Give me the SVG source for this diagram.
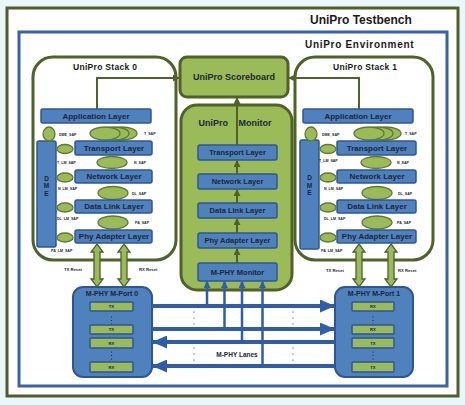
<svg xmlns="http://www.w3.org/2000/svg" width="465" height="405" viewBox="0 0 465 405">
<defs>
<style>
text{font-family:"Liberation Sans",Arial,sans-serif;font-weight:bold;fill:#1c2638}
.title{font-size:12px;fill:#1a1a1a}
.env{font-size:10px;letter-spacing:0.7px;fill:#1a1a1a}
.stk{font-size:8.5px;letter-spacing:0.3px;fill:#1a1a1a}
.lay{font-size:8px;text-anchor:middle}
.dme{font-size:6.5px;text-anchor:middle}
.mlay{font-size:7.5px;text-anchor:middle}
.sap{font-size:3.6px}
.rst{font-size:4.2px}
.bar{font-size:4.2px;text-anchor:middle}
.stack{fill:#fff;stroke:#4f6228;stroke-width:3}
.green{fill:#9bbb59;stroke:#4f6228;stroke-width:3}
.layer{fill:#4f81bd;stroke:#2f5597;stroke-width:1.5}
.ell{fill:#9bbb59;stroke:#5f7a2e;stroke-width:1.3}
.port{fill:#4f81bd;stroke:#2f5597;stroke-width:2}
.pbar{fill:#9bbb59;stroke:#2f5597;stroke-width:1.5}
.blk{fill:#9bbb59;stroke:#4f6228;stroke-width:1.3}
.oln{fill:none;stroke:#4f6228;stroke-width:2}
.lane{fill:none;stroke:#2f5da8;stroke-width:4}
.tap{fill:none;stroke:#2f5da8;stroke-width:2.5}
.dot{fill:#222}
</style>
<marker id="ao" markerUnits="userSpaceOnUse" markerWidth="7" markerHeight="7" refX="6" refY="3.5" orient="auto"><path d="M0,0 L7,3.5 L0,7 z" fill="#4f6228"/></marker>
<marker id="al" markerUnits="userSpaceOnUse" markerWidth="15" markerHeight="13" refX="14" refY="6.5" orient="auto"><path d="M0,0 L15,6.5 L0,13 z" fill="#2f5da8"/></marker>
<marker id="at" markerUnits="userSpaceOnUse" markerWidth="7" markerHeight="7" refX="6" refY="3.5" orient="auto"><path d="M0,0 L7,3.5 L0,7 z" fill="#2f5da8"/></marker>
</defs>
<rect x="0" y="0" width="465" height="405" fill="#eaf6fb"/>
<g id="testbench">
<rect x="7" y="8" width="451" height="388" fill="#fff" stroke="#4f5f2b" stroke-width="3"/>
<text class="title" x="310" y="24">UniPro Testbench</text>
</g>
<g id="environment">
<rect x="19" y="32" width="428" height="354" fill="#fff" stroke="#3a62a8" stroke-width="3"/>
<text class="env" x="305" y="48">UniPro Environment</text>
</g>

<g id="stack0">
<rect class="stack" x="33" y="57" width="143" height="203" rx="20"/>
<text class="stk" x="73" y="70">UniPro Stack 0</text>
</g>
<g id="stack1">
<rect class="stack" x="295" y="57" width="138" height="203" rx="20"/>
<text class="stk" x="333" y="70">UniPro Stack 1</text>
</g>

<g id="stack0-layers">
<rect class="layer" x="41" y="109" width="110" height="14" rx="2"/>
<text class="lay" x="96" y="118.8">Application Layer</text>
<rect class="layer" x="37" y="141" width="19" height="106" rx="2"/>
<text class="dme" x="46.5" y="180.5">D</text>
<text class="dme" x="46.5" y="188">M</text>
<text class="dme" x="46.5" y="195.5">E</text>
<ellipse class="ell" cx="49" cy="134" rx="6" ry="7"/>
<ellipse class="ell" cx="122" cy="133.5" rx="15" ry="6.5"/>
<ellipse class="ell" cx="114" cy="133.5" rx="15" ry="6.5"/>
<ellipse class="ell" cx="105" cy="133.5" rx="15" ry="6.5"/>
<rect class="layer" x="75" y="141" width="77" height="14" rx="2"/>
<text class="lay" x="114" y="150.8">Transport Layer</text>
<ellipse class="ell" cx="65" cy="149" rx="8" ry="4.5"/>
<ellipse class="ell" cx="112" cy="162.5" rx="15" ry="6"/>
<rect class="layer" x="75" y="170" width="77" height="13" rx="2"/>
<text class="lay" x="114" y="179.3">Network Layer</text>
<ellipse class="ell" cx="65" cy="177.5" rx="8" ry="4.5"/>
<ellipse class="ell" cx="113" cy="193" rx="15" ry="6.5"/>
<rect class="layer" x="75" y="200" width="77" height="13" rx="2"/>
<text class="lay" x="114" y="209.3">Data Link Layer</text>
<ellipse class="ell" cx="65" cy="207.5" rx="8" ry="4.5"/>
<ellipse class="ell" cx="113" cy="222.5" rx="15" ry="6.5"/>
<rect class="layer" x="75" y="230" width="77" height="13" rx="2"/>
<text class="lay" x="114" y="239.3">Phy Adapter Layer</text>
<ellipse class="ell" cx="65" cy="237.5" rx="8" ry="4.5"/>
<text class="sap" x="59" y="136">DME_SAP</text>
<text class="sap" x="144" y="135">T_SAP</text>
<text class="sap" x="57" y="164">T_LM_SAP</text>
<text class="sap" x="134" y="164">N_SAP</text>
<text class="sap" x="58" y="190">N_LM_SAP</text>
<text class="sap" x="132" y="195">DL_SAP</text>
<text class="sap" x="57" y="220">DL_LM_SAP</text>
<text class="sap" x="135" y="224">PA_SAP</text>
<text class="sap" x="51" y="252">PA_LM_SAP</text>
</g>

<g id="stack1-layers" transform="translate(262,0)">
<rect class="layer" x="41" y="109" width="110" height="14" rx="2"/>
<text class="lay" x="96" y="118.8">Application Layer</text>
<rect class="layer" x="38" y="140" width="19" height="109" rx="2"/>
<text class="dme" x="47.5" y="180">D</text>
<text class="dme" x="47.5" y="187.5">M</text>
<text class="dme" x="47.5" y="195">E</text>
<ellipse class="ell" cx="49" cy="134" rx="6" ry="7"/>
<ellipse class="ell" cx="124" cy="133.5" rx="15" ry="6.5"/>
<ellipse class="ell" cx="116" cy="133.5" rx="15" ry="6.5"/>
<ellipse class="ell" cx="107" cy="133.5" rx="15" ry="6.5"/>
<rect class="layer" x="75" y="141" width="79" height="14" rx="2"/>
<text class="lay" x="115" y="150.8">Transport Layer</text>
<ellipse class="ell" cx="66" cy="149" rx="8" ry="4.5"/>
<ellipse class="ell" cx="114" cy="162.5" rx="15" ry="6"/>
<rect class="layer" x="75" y="170" width="79" height="13" rx="2"/>
<text class="lay" x="115" y="179.3">Network Layer</text>
<ellipse class="ell" cx="66" cy="177.5" rx="8" ry="4.5"/>
<ellipse class="ell" cx="115" cy="193" rx="15" ry="6.5"/>
<rect class="layer" x="75" y="200" width="79" height="13" rx="2"/>
<text class="lay" x="115" y="209.3">Data Link Layer</text>
<ellipse class="ell" cx="66" cy="207.5" rx="8" ry="4.5"/>
<ellipse class="ell" cx="115" cy="222.5" rx="15" ry="6.5"/>
<rect class="layer" x="75" y="230" width="79" height="13" rx="2"/>
<text class="lay" x="115" y="239.3">Phy Adapter Layer</text>
<ellipse class="ell" cx="66" cy="237.5" rx="8" ry="4.5"/>
<text class="sap" x="60" y="136">DME_SAP</text>
<text class="sap" x="143" y="135">T_SAP</text>
<text class="sap" x="57" y="162">T_LM_SAP</text>
<text class="sap" x="135" y="164">N_SAP</text>
<text class="sap" x="62" y="190">N_LM_SAP</text>
<text class="sap" x="136" y="195">DL_SAP</text>
<text class="sap" x="62" y="220">DL_LM_SAP</text>
<text class="sap" x="135" y="224">PA_SAP</text>
<text class="sap" x="59" y="252">PA_LM_SAP</text>
</g>

<g id="scoreboard">
<rect class="green" x="180" y="57" width="108" height="40" rx="7"/>
<text x="234" y="80" font-size="9" text-anchor="middle" fill="#1a1a1a">UniPro Scoreboard</text>
</g>

<g id="monitor">
<rect class="green" x="181" y="105" width="111" height="185" rx="16"/>
<text x="235" y="126" font-size="9" text-anchor="middle" word-spacing="8" fill="#1a1a1a">UniPro Monitor</text>
<rect class="layer" x="198" y="145" width="79" height="15" rx="2"/>
<text class="mlay" x="237.5" y="155">Transport Layer</text>
<rect class="layer" x="198" y="174" width="79" height="15" rx="2"/>
<text class="mlay" x="237.5" y="184">Network Layer</text>
<rect class="layer" x="198" y="203" width="79" height="15" rx="2"/>
<text class="mlay" x="237.5" y="213">Data Link Layer</text>
<rect class="layer" x="198" y="233" width="79" height="15" rx="2"/>
<text class="mlay" x="237.5" y="243">Phy Adapter Layer</text>
<rect class="layer" x="198" y="263" width="79" height="18" rx="2"/>
<text class="mlay" x="237.5" y="274.5">M-PHY Monitor</text>
</g>

<g id="mport0">
<rect class="port" x="73" y="287" width="79" height="90" rx="10"/>
<text x="112" y="296" font-size="7" text-anchor="middle">M-PHY M-Port 0</text>
<rect class="pbar" x="90" y="302" width="43" height="9" rx="1"/>
<text class="bar" x="111.5" y="308">TX</text>
<circle class="dot" cx="111.5" cy="317" r="0.6"/><circle class="dot" cx="111.5" cy="320.5" r="0.6"/><circle class="dot" cx="111.5" cy="324" r="0.6"/>
<rect class="pbar" x="90" y="325" width="43" height="9" rx="1"/>
<text class="bar" x="111.5" y="331">TX</text>
<rect class="pbar" x="90" y="338" width="43" height="10" rx="1"/>
<text class="bar" x="111.5" y="344.5">RX</text>
<circle class="dot" cx="111.5" cy="352" r="0.6"/><circle class="dot" cx="111.5" cy="355.5" r="0.6"/><circle class="dot" cx="111.5" cy="359" r="0.6"/>
<rect class="pbar" x="90" y="362" width="43" height="10" rx="1"/>
<text class="bar" x="111.5" y="368.5">RX</text>
</g>

<g id="mport1">
<rect class="port" x="335" y="287" width="78" height="90" rx="10"/>
<text x="374" y="296" font-size="7" text-anchor="middle">M-PHY M-Port 1</text>
<rect class="pbar" x="352" y="302" width="42" height="9" rx="1"/>
<text class="bar" x="373" y="308">RX</text>
<circle class="dot" cx="373" cy="317" r="0.6"/><circle class="dot" cx="373" cy="320.5" r="0.6"/><circle class="dot" cx="373" cy="324" r="0.6"/>
<rect class="pbar" x="352" y="325" width="42" height="9" rx="1"/>
<text class="bar" x="373" y="331">RX</text>
<rect class="pbar" x="352" y="338" width="42" height="10" rx="1"/>
<text class="bar" x="373" y="344.5">TX</text>
<circle class="dot" cx="373" cy="352" r="0.6"/><circle class="dot" cx="373" cy="355.5" r="0.6"/><circle class="dot" cx="373" cy="359" r="0.6"/>
<rect class="pbar" x="352" y="362" width="42" height="10" rx="1"/>
<text class="bar" x="373" y="368.5">TX</text>
</g>

<g id="connectors">
<path class="oln" d="M97,109 V78 H179" marker-end="url(#ao)"/>
<path class="oln" d="M359,109 V78 H289" marker-end="url(#ao)"/>
<path class="oln" d="M237,145 V98" marker-end="url(#ao)"/>
<path class="oln" d="M237,174 V161" marker-end="url(#ao)"/>
<path class="oln" d="M237,203 V190" marker-end="url(#ao)"/>
<path class="oln" d="M237,233 V219" marker-end="url(#ao)"/>
<path class="oln" d="M237,263 V249" marker-end="url(#ao)"/>
<path class="blk" d="M97,244 L103,252 L100,252 L100,279 L103,279 L97,287 L91,279 L94,279 L94,252 L91,252 Z"/>
<path class="blk" d="M124,244 L130,252 L127,252 L127,279 L130,279 L124,287 L118,279 L121,279 L121,252 L118,252 Z"/>
<path class="blk" d="M359,244 L365,252 L362,252 L362,279 L365,279 L359,287 L353,279 L356,279 L356,252 L353,252 Z"/>
<path class="blk" d="M391,244 L397,252 L394,252 L394,279 L397,279 L391,287 L385,279 L388,279 L388,252 L385,252 Z"/>
<text class="rst" x="64" y="271">TX Reset</text>
<text class="rst" x="139" y="271">RX Reset</text>
<text class="rst" x="326" y="272">TX Reset</text>
<text class="rst" x="398" y="272">RX Reset</text>
<path class="lane" d="M152,306 H334" marker-end="url(#al)"/>
<path class="lane" d="M152,329 H334" marker-end="url(#al)"/>
<path class="lane" d="M335,342 H153" marker-end="url(#al)"/>
<path class="lane" d="M335,366 H153" marker-end="url(#al)"/>
<path class="tap" d="M207,305 V282" marker-end="url(#at)"/>
<path class="tap" d="M224.5,328 V282" marker-end="url(#at)"/>
<path class="tap" d="M242,341 V282" marker-end="url(#at)"/>
<path class="tap" d="M262.5,365 V282" marker-end="url(#at)"/>
<circle class="dot" cx="194" cy="312" r="0.6"/><circle class="dot" cx="194" cy="318" r="0.6"/><circle class="dot" cx="194" cy="324" r="0.6"/>
<circle class="dot" cx="194" cy="348" r="0.6"/><circle class="dot" cx="194" cy="354" r="0.6"/><circle class="dot" cx="194" cy="360" r="0.6"/>
<circle class="dot" cx="293" cy="312" r="0.6"/><circle class="dot" cx="293" cy="318" r="0.6"/><circle class="dot" cx="293" cy="324" r="0.6"/>
<circle class="dot" cx="293" cy="348" r="0.6"/><circle class="dot" cx="293" cy="354" r="0.6"/><circle class="dot" cx="293" cy="360" r="0.6"/>
<text x="237" y="356.5" font-size="6.5" text-anchor="middle">M-PHY Lanes</text>
</g>
</svg>
